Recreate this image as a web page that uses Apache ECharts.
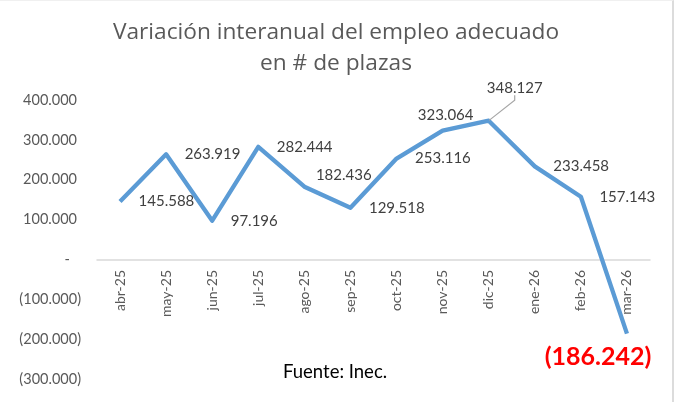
<!DOCTYPE html>
<html>
<head>
<meta charset="utf-8">
<script src="https://cdn.jsdelivr.net/npm/echarts@6/dist/echarts.min.js"></script>
<style>
  html, body { margin: 0; padding: 0; background: #fff; }
  #chart { width: 674px; height: 402px; box-sizing: border-box; border-right: 2px solid #dcdcdc; border-top: 1px solid #f0f0f0; }
</style>
</head>
<body>
<div id="chart"></div>
<script>
// datos del gráfico
var meses = ['abr-25', 'may-25', 'jun-25', 'jul-25', 'ago-25', 'sep-25',
             'oct-25', 'nov-25', 'dic-25', 'ene-26', 'feb-26', 'mar-26'];
var variacion = [145588, 263919, 97196, 282444, 182436, 129518,
                 253116, 323064, 348127, 233458, 157143, -186242];
var ejeY = { min: -300000, max: 400000, interval: 100000 };

// 1234567 -> "1.234.567", negativos entre paréntesis
function formato(v) {
  var s = Math.abs(v).toString().replace(/\B(?=(\d{3})+(?!\d))/g, '.');
  return v < 0 ? '(' + s + ')' : s;
}

var gris = '#595959';

// etiquetas movidas a mano (como en el Excel): índice -> desplazamiento
var moverEtiqueta = {
  4: { dx: 0, dy: -12 },
  7: { dx: 3, dy: 0 },
  8: { dx: 26, dy: -33 },
  11: { dx: -29, dy: 23 }
};

var puntos = variacion.map(function (v, i) {
  var item = { value: v };
  if (i === 4) {
    item.label = { position: 'right', distance: 11 };
  } else if (i === 7) {
    item.label = { position: 'top', distance: 8 };
  } else if (i === 8) {
    item.label = { position: 'inside' };
    item.labelLine = { show: true };
  } else if (i === 11) {
    item.label = {
      position: 'inside',
      color: '#ff0000', fontWeight: 'bold', fontSize: 25
    };
  }
  return item;
});

var chart = echarts.init(document.getElementById('chart'));
chart.setOption({
  backgroundColor: '#fff',
  animation: false,
  title: [
    {
      text: 'Variación interanual del empleo adecuado\nen # de plazas',
      left: 'center',
      top: 11,
      textStyle: {
        fontFamily: 'Open Sans', fontWeight: 'normal', fontSize: 22.7,
        color: gris, lineHeight: 31
      }
    },
    {
      text: 'Fuente: Inec.',
      left: 278,
      top: 355,
      textStyle: {
        fontFamily: 'Lato', fontWeight: 'normal', fontSize: 18.5,
        color: '#000', lineHeight: 22
      }
    }
  ],
  grid: { left: 97, right: 22, top: 99, bottom: 23, outerBoundsMode: 'none', containLabel: false },
  xAxis: {
    type: 'category',
    data: meses,
    boundaryGap: true,
    axisLine: { onZero: true, lineStyle: { color: '#d9d9d9', width: 1.5 } },
    axisTick: { show: false },
    axisLabel: {
      // las etiquetas no siguen a la línea del cero, se suben a mano
      rotate: 90, margin: -109, color: gris, fontSize: 14, fontFamily: 'Lato'
    },
    splitLine: { show: false }
  },
  yAxis: {
    type: 'value',
    min: ejeY.min,
    max: ejeY.max,
    interval: ejeY.interval,
    axisLine: { show: false },
    axisTick: { show: false },
    splitLine: { show: false },
    axisLabel: {
      margin: 16, color: gris, fontSize: 14.5, fontFamily: 'Lato',
      formatter: function (v) {
        if (v === 0) return '{z|-}';
        return v < 0 ? formato(v) : '{p|' + formato(v) + '}';
      },
      rich: {
        p: { padding: [0, 4, 0, 0], color: gris, fontSize: 14.5, fontFamily: 'Lato' },
        z: { padding: [0, 11, 0, 0], color: gris, fontSize: 14.5, fontFamily: 'Lato' }
      }
    }
  },
  series: [{
    type: 'line',
    data: puntos,
    symbol: 'circle',
    symbolSize: 1,
    showSymbol: true,
    itemStyle: { color: 'rgba(91,155,213,0)' },
    lineStyle: { color: '#5b9bd5', width: 4.3, join: 'round' },
    label: {
      show: true,
      position: 'right',
      distance: 18,
      color: '#404040',
      fontSize: 15,
      fontFamily: 'Lato',
      formatter: function (p) { return formato(p.value); }
    },
    labelLine: { show: false, length2: 5, lineStyle: { color: '#a6a6a6', width: 1.2 } },
    labelLayout: function (p) {
      return moverEtiqueta[p.dataIndex] || {};
    }
  }]
});
</script>
</body>
</html>
